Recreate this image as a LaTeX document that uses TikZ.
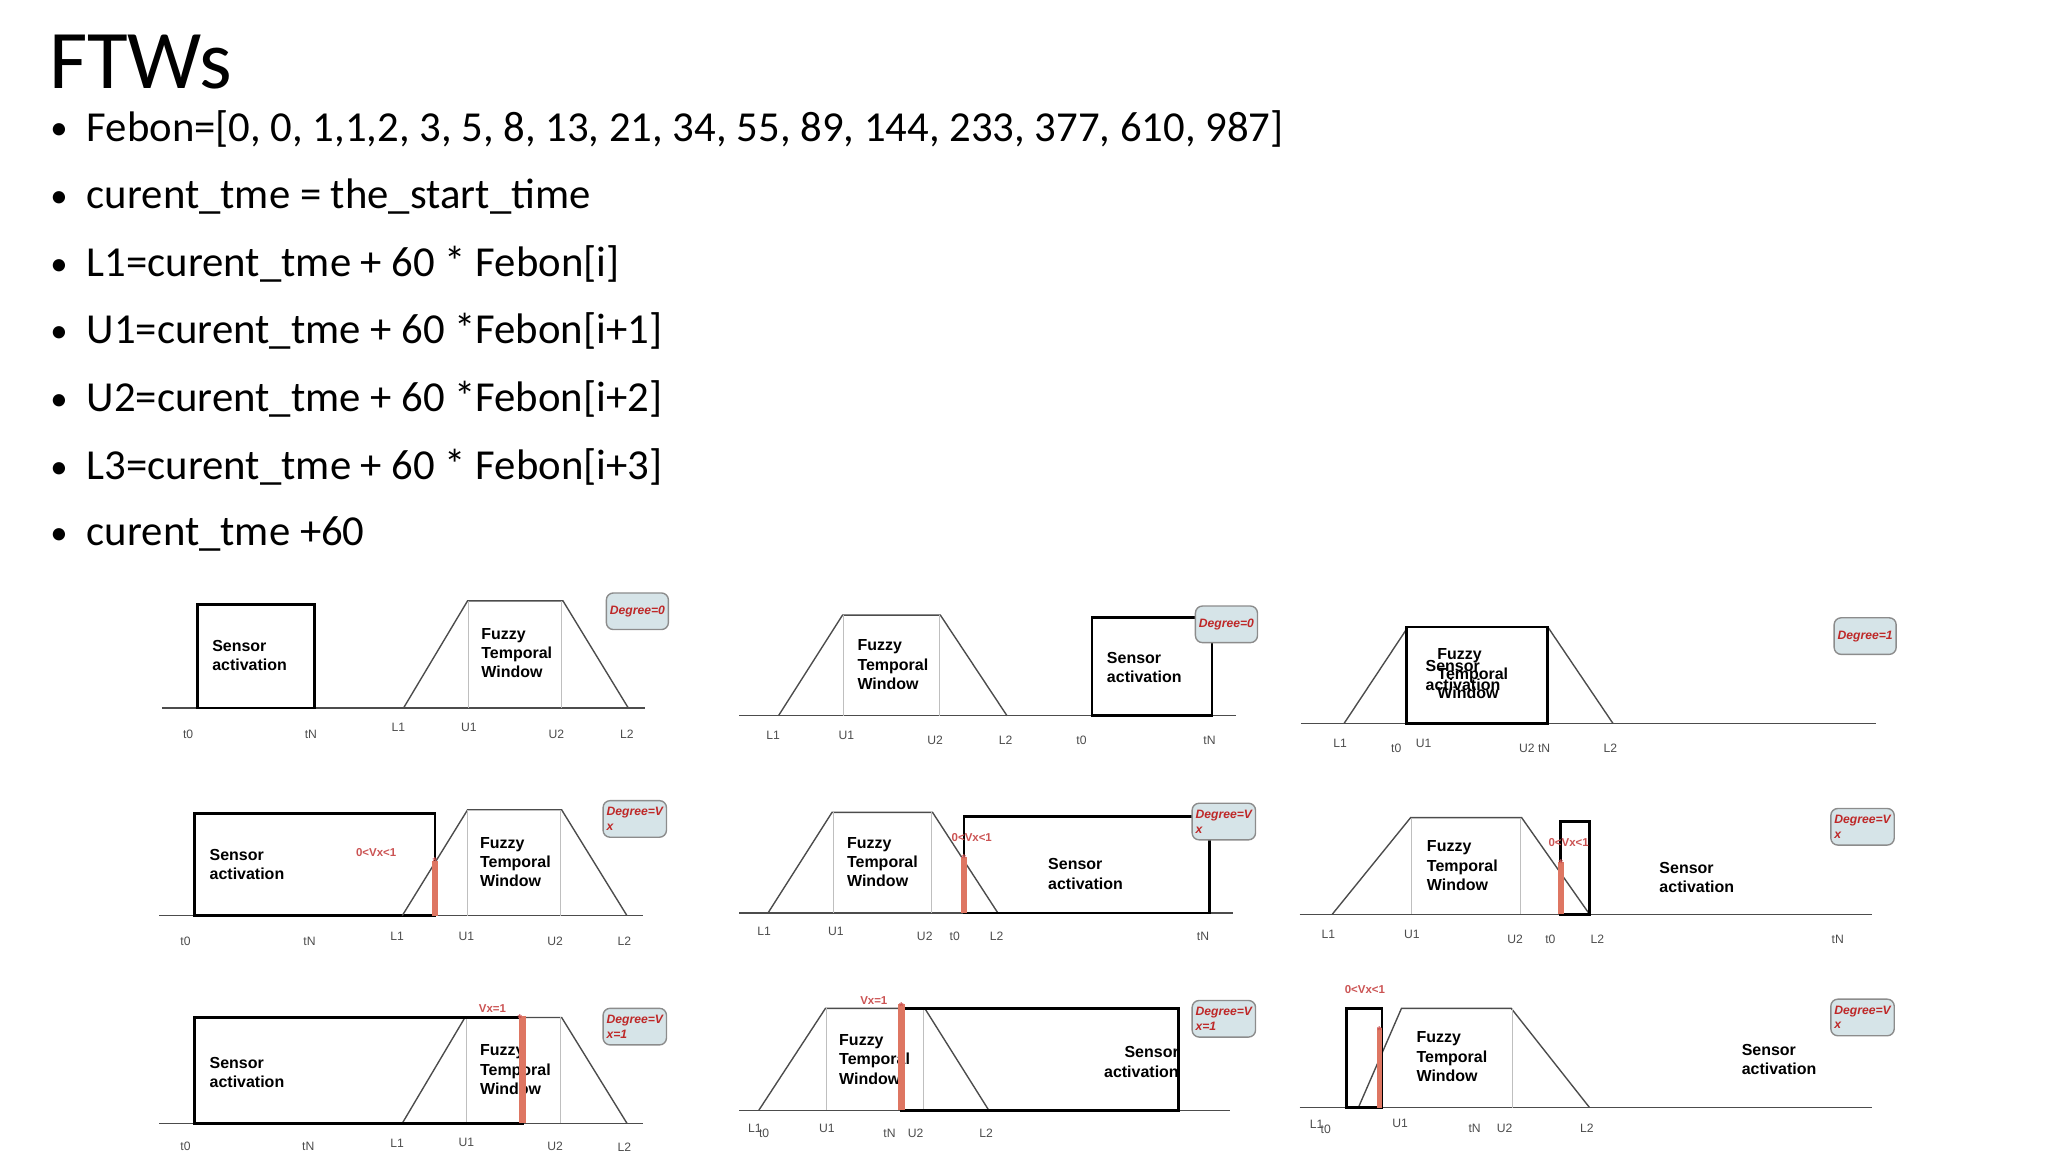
\documentclass[tikz,border=0pt]{standalone}
\usepackage{fontspec}
\setmainfont{Carlito}
\newfontfamily\arialfont{Liberation Sans}
\usetikzlibrary{shapes.geometric, arrows}
\definecolor{barred}{RGB}{222,118,98}
\definecolor{degred}{RGB}{190,40,40}
\definecolor{degfill}{RGB}{214,228,232}
\begin{document}
\begin{tikzpicture}[x=0.013213cm, y=-0.013213cm]

\tikzstyle{bullet} = [anchor=base west, inner sep=0, font=\fontsize{12.3}{14}\selectfont]
\tikzstyle{sensorbox} = [draw=black, line width=0.8pt]
\tikzstyle{boxtext} = [anchor=west, align=left, inner sep=0, font=\arialfont\bfseries\fontsize{4.6}{5.6}\selectfont]
\tikzstyle{axislbl} = [inner sep=0, text=black!70, font=\arialfont\fontsize{3.5}{4}\selectfont]
\tikzstyle{degree} = [draw=black!45, fill=degfill, rounded corners=2pt, minimum width=0.6cm, minimum height=0.37cm, align=left, inner sep=1pt, text=degred, font=\arialfont\bfseries\itshape\fontsize{3.5}{4.2}\selectfont]
\tikzstyle{vx} = [inner sep=0, text=degred!80, font=\arialfont\bfseries\fontsize{3.3}{4}\selectfont]
\tikzstyle{bar} = [barred, line width=1.6pt]
\tikzstyle{axis} = [black!70, line width=0.4pt]
\tikzstyle{trap} = [black!70, line width=0.4pt]
\tikzstyle{guide} = [black!25, line width=0.3pt]

\useasboundingbox (0,0) rectangle (1568,882);

% title and bullets
\node (title) [anchor=base west, inner sep=0, font=\fontsize{24}{28}\selectfont] at (37,68) {FTWs};
\foreach \y/\txt [count=\i] in {
  97/{Febon=[0, 0, 1,1,2, 3, 5, 8, 13, 21, 34, 55, 89, 144, 233, 377, 610, 987]},
  149/{curent\_tme = the\_start\_time},
  201/{L1=curent\_tme + 60 * Febon[i]},
  252/{U1=curent\_tme + 60 *Febon[i+1]},
  304/{U2=curent\_tme + 60 *Febon[i+2]},
  356/{L3=curent\_tme + 60 * Febon[i+3]},
  407/{curent\_tme +60}} {
  \node (dot\i) [bullet, font=\fontsize{10}{12}\selectfont] at (38,\y+10) {\textbullet};
  \node (line\i) [bullet] at (66,\y+11) {\txt};
}

% ---------- row 1 ----------
% panel 1
\draw [axis] (124,542) -- (494,542);
\draw [sensorbox] (151,542) rectangle (241,463);
\draw [trap] (309,542) -- (358,460) -- (431,460) -- (481,542);
\draw [guide] (359,460) -- (359,542); \draw [guide] (430,460) -- (430,542);
\node (sa1) [boxtext] at (162,502) {Sensor\\activation};
\node (ftw1) [boxtext] at (368,500) {Fuzzy\\Temporal\\Window};
\node (deg1) [degree] at (488,468) {Degree=0};
\node (t01) [axislbl] at (144,562) {t0};
\node (tN1) [axislbl] at (238,562) {tN};
\node (L11) [axislbl] at (305,557) {L1};
\node (U11) [axislbl] at (359,557) {U1};
\node (U21) [axislbl] at (426,562) {U2};
\node (L21) [axislbl] at (480,562) {L2};

% panel 2
\draw [axis] (566,548) -- (946,548);
\draw [trap] (596,548) -- (645,471) -- (720,471) -- (771,548);
\draw [guide] (646,471) -- (646,548); \draw [guide] (719,471) -- (719,548);
\draw [sensorbox] (836,548) rectangle (928,473);
\node (ftw2) [boxtext] at (656,509) {Fuzzy\\Temporal\\Window};
\node (sa2) [boxtext] at (847,511) {Sensor\\activation};
\node (deg2) [degree] at (939,478) {Degree=0};
\node (L12) [axislbl] at (592,563) {L1};
\node (U12) [axislbl] at (648,563) {U1};
\node (U22) [axislbl] at (716,567) {U2};
\node (L22) [axislbl] at (770,567) {L2};
\node (t02) [axislbl] at (828,567) {t0};
\node (tN2) [axislbl] at (926,567) {tN};

% panel 3
\draw [axis] (996,554) -- (1436,554);
\draw [trap] (1029,554) -- (1078,480) -- (1185,480) -- (1235,554);
\draw [sensorbox] (1077,554) rectangle (1185,480);
\node (sa3) [boxtext] at (1091,517) {Sensor\\activation};
\node (ftw3) [boxtext] at (1100,516) {Fuzzy\\Temporal\\Window};
\node (deg3) [degree] at (1428,487) {Degree=1};
\node (L13) [axislbl] at (1026,569) {L1};
\node (t03) [axislbl] at (1069,573) {t0};
\node (U13) [axislbl] at (1090,569) {U1};
\node (U23) [axislbl] at (1175,573) {U2 tN};
\node (L23) [axislbl] at (1233,573) {L2};

% ---------- row 2 ----------
% panel 4
\draw [axis] (122,701) -- (492,701);
\draw [sensorbox] (149,701) rectangle (333,623);
\draw [trap] (308,701) -- (358,620) -- (430,620) -- (480,701);
\draw [guide] (358,620) -- (358,701); \draw [guide] (429,620) -- (429,701);
\draw [bar] (333,701) -- (333,659);
\node (mk4) [vx] at (333,660) {*};
\node (vx4) [vx] at (288,653) {0<Vx<1};
\node (sa4) [boxtext] at (160,662) {Sensor\\activation};
\node (ftw4) [boxtext] at (367,660) {Fuzzy\\Temporal\\Window};
\node (deg4) [degree] at (486,627) {Degree=V\\x};
\node (t04) [axislbl] at (142,721) {t0};
\node (tN4) [axislbl] at (237,721) {tN};
\node (L14) [axislbl] at (304,717) {L1};
\node (U14) [axislbl] at (357,717) {U1};
\node (U24) [axislbl] at (425,721) {U2};
\node (L24) [axislbl] at (478,721) {L2};

% panel 5
\draw [axis] (566,699) -- (944,699);
\draw [trap] (588,699) -- (637,622) -- (714,622) -- (764,699);
\draw [guide] (638,622) -- (638,699); \draw [guide] (713,622) -- (713,699);
\draw [sensorbox] (738,699) rectangle (926,625);
\draw [bar] (738,699) -- (738,656);
\node (mk5) [vx] at (738,657) {*};
\node (vx5) [vx] at (744,641) {0<Vx<1};
\node (ftw5) [boxtext] at (648,660) {Fuzzy\\Temporal\\Window};
\node (sa5) [boxtext] at (802,669) {Sensor\\activation};
\node (deg5) [degree] at (937,629) {Degree=V\\x};
\node (L15) [axislbl] at (585,713) {L1};
\node (U15) [axislbl] at (640,713) {U1};
\node (U25) [axislbl] at (708,717) {U2};
\node (t05) [axislbl] at (731,717) {t0};
\node (L25) [axislbl] at (763,717) {L2};
\node (tN5) [axislbl] at (921,717) {tN};

% panel 6
\draw [axis] (995,700) -- (1433,700);
\draw [trap] (1020,700) -- (1080,626) -- (1165,626) -- (1217,700);
\draw [guide] (1081,626) -- (1081,700); \draw [guide] (1164,626) -- (1164,700);
\draw [sensorbox] (1195,700) rectangle (1217,629);
\draw [bar] (1195,700) -- (1195,660);
\node (mk6) [vx] at (1195,661) {*};
\node (vx6) [vx] at (1201,645) {0<Vx<1};
\node (ftw6) [boxtext] at (1092,663) {Fuzzy\\Temporal\\Window};
\node (sa6) [boxtext] at (1270,672) {Sensor\\activation};
\node (deg6) [degree] at (1426,633) {Degree=V\\x};
\node (L16) [axislbl] at (1017,715) {L1};
\node (U16) [axislbl] at (1081,715) {U1};
\node (U26) [axislbl] at (1160,719) {U2};
\node (t06) [axislbl] at (1187,719) {t0};
\node (L26) [axislbl] at (1223,719) {L2};
\node (tN6) [axislbl] at (1407,719) {tN};

% ---------- row 3 ----------
% panel 7
\draw [axis] (122,860) -- (492,860);
\draw [trap] (308,860) -- (356,779) -- (430,779) -- (480,860);
\draw [guide] (357,779) -- (357,860); \draw [guide] (429,779) -- (429,860);
\draw [sensorbox] (149,860) rectangle (400,779);
\node (sa7) [boxtext] at (160,821) {Sensor\\activation};
\node (ftw7) [boxtext] at (367,819) {Fuzzy\\Temporal\\Window};
\draw [bar, line width=2pt] (400,860) -- (400,778);
\node (mk7) [vx] at (398,780) {*};
\node (vx7) [vx] at (377,772) {Vx=1};
\node (deg7) [degree] at (486,786) {Degree=V\\x=1};
\node (t07) [axislbl] at (142,878) {t0};
\node (tN7) [axislbl] at (236,878) {tN};
\node (L17) [axislbl] at (304,875) {L1};
\node (U17) [axislbl] at (357,875) {U1};
\node (U27) [axislbl] at (425,878) {U2};
\node (L27) [axislbl] at (478,878) {L2};

% panel 8
\draw [axis] (566,850) -- (942,850);
\draw [trap] (581,850) -- (632,772) -- (708,772) -- (757,850);
\draw [guide] (633,772) -- (633,850); \draw [guide] (707,772) -- (707,850);
\draw [sensorbox] (690,850) rectangle (902,772);
\node (ftw8) [boxtext] at (642,811) {Fuzzy\\Temporal\\Window};
\node (sa8) [boxtext, align=right, anchor=east] at (903,813) {Sensor\\activation};
\draw [bar, line width=2pt] (690,850) -- (690,769);
\node (mk8) [vx] at (690,771) {*};
\node (vx8) [vx] at (669,766) {Vx=1};
\node (deg8) [degree] at (937,780) {Degree=V\\x=1};
\node (L18) [axislbl] at (578,864) {L1};
\node (t08) [axislbl] at (585,868) {t0};
\node (U18) [axislbl] at (633,864) {U1};
\node (tN8) [axislbl] at (681,868) {tN};
\node (U28) [axislbl] at (701,868) {U2};
\node (L28) [axislbl] at (755,868) {L2};

% panel 9
\draw [axis] (995,848) -- (1433,848);
\draw [trap] (1040,848) -- (1073,772) -- (1157,772) -- (1217,848);
\draw [guide] (1158,772) -- (1158,848);
\draw [sensorbox] (1031,848) rectangle (1058,772);
\draw [bar] (1056,848) -- (1056,787);
\node (mk9) [vx] at (1056,789) {*};
\node (vx9) [vx] at (1045,758) {0<Vx<1};
\node (ftw9) [boxtext] at (1084,809) {Fuzzy\\Temporal\\Window};
\node (sa9) [boxtext] at (1333,811) {Sensor\\activation};
\node (deg9) [degree] at (1426,779) {Degree=V\\x};
\node (L19) [axislbl] at (1008,861) {L1};
\node (t09) [axislbl] at (1015,865) {t0};
\node (U19) [axislbl] at (1072,860) {U1};
\node (tN9) [axislbl] at (1129,864) {tN};
\node (U29) [axislbl] at (1152,864) {U2};
\node (L29) [axislbl] at (1215,864) {L2};

\end{tikzpicture}
\end{document}
